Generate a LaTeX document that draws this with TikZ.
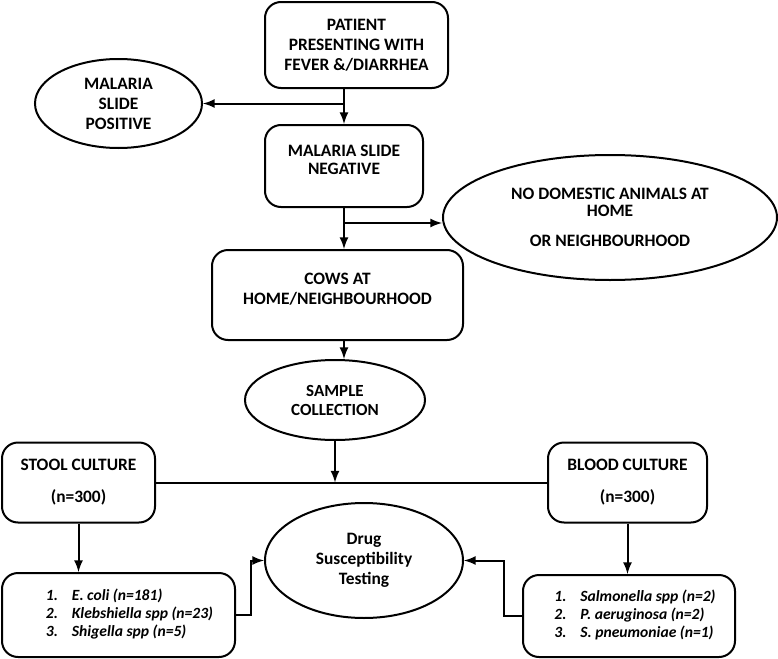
\documentclass[tikz,border=0pt]{standalone}
\usepackage{fontspec}
\setmainfont{Carlito}
\usetikzlibrary{shapes.geometric}

\tikzset{
  BoxStyle/.style  = {draw, rounded corners=8pt, line width=1pt, align=center, inner sep=0pt,
                      font=\fontsize{8.7}{10}\selectfont\bfseries},
  OvalStyle/.style = {draw, ellipse, line width=1pt, align=center, inner sep=0pt,
                      font=\fontsize{8.7}{10}\selectfont\bfseries},
  ListStyle/.style = {BoxStyle, font=\fontsize{7.8}{8.8}\selectfont\bfseries\itshape},
  EdgeStyle/.style = {->, line width=1pt},
}

\begin{document}
\begin{tikzpicture}[x=0.5pt,y=-0.5pt,>=latex]
\useasboundingbox (0,0) rectangle (778,659);

   % top part
   \node[BoxStyle, minimum width=91.5pt, minimum height=43pt] (patient) at (356.5,45)
        {PATIENT\\PRESENTING WITH\\FEVER \&/DIARRHEA};
   \node[OvalStyle, minimum width=83.5pt, minimum height=44.5pt] (malpos) at (118.5,103.5)
        {MALARIA\\SLIDE\\POSITIVE};
   \node[BoxStyle, minimum width=79pt, minimum height=41pt] (neg) at (344,166)
        {MALARIA SLIDE\\[-1pt]NEGATIVE\\[-4pt]\mbox{}};
   \node[OvalStyle, minimum width=167pt, minimum height=62.5pt] (nodom) at (610,217.5)
        {NO DOMESTIC ANIMALS AT\\[-1.5pt]HOME\\[5pt]OR NEIGHBOURHOOD};
   \node[BoxStyle, minimum width=125.5pt, minimum height=45pt] (cows) at (337.5,295)
        {COWS AT\\HOME/NEIGHBOURHOOD\\[-4pt]\mbox{}};
   \node[OvalStyle, minimum width=90pt, minimum height=40pt,
         font=\fontsize{8.5}{9.5}\selectfont\bfseries] (sample) at (335,400)
        {SAMPLE\\COLLECTION};

   % cultures
   \node[BoxStyle, minimum width=76.5pt, minimum height=40pt] (stool) at (78.5,482.5)
        {STOOL CULTURE\\[6pt](n=300)};
   \node[BoxStyle, minimum width=79.5pt, minimum height=40pt] (blood) at (627.5,482.5)
        {BLOOD CULTURE\\[6pt](n=300)};
   \node[OvalStyle, minimum width=99pt, minimum height=57.5pt] (dst) at (364,560.5)
        {Drug\\Susceptibility\\Testing};
   \node[ListStyle, minimum width=116.5pt, minimum height=42pt] (stoollist) at (118.5,615)
        {\begin{tabular}{@{\hspace{11pt}}p{13pt}@{}l@{}}
         1. & E. coli (n=181)\\
         2. & Klebshiella spp (n=23)\\
         3. & Shigella spp (n=5)
         \end{tabular}};
   \node[ListStyle, minimum width=106pt, minimum height=41pt] (bloodlist) at (629,616)
        {\begin{tabular}{@{\hspace{6pt}}p{13pt}@{}l@{}}
         1. & Salmonella spp (n=2)\\
         2. & P. aeruginosa (n=2)\\
         3. & S. pneumoniae (n=1)
         \end{tabular}};

   \coordinate (split) at (344,223);

   % connectors
   \draw[EdgeStyle] (neg.north |- patient.south) -- (neg.north);
   \draw[EdgeStyle] (neg.north |- malpos.east) -- (malpos.east);
   \draw[EdgeStyle] (neg.south) -- (neg.south |- cows.north);
   \draw[EdgeStyle] (split) -- (split -| nodom.west);
   \draw[EdgeStyle] (neg.south |- cows.south) -- (neg.south |- sample.north);
   \draw[line width=1pt] (stool.east) -- (blood.west);
   \draw[EdgeStyle] (sample.south) -- (sample.south |- stool.east);
   \draw[EdgeStyle] (stool.south) -- (stool.south |- stoollist.north);
   \draw[EdgeStyle] (blood.south) -- (blood.south |- bloodlist.north);
   \draw[EdgeStyle] (stoollist.east) -- ++(15,0) |- (dst.west);
   \draw[EdgeStyle] (bloodlist.west) -- ++(-18,0) |- (dst.east);
\end{tikzpicture}
\end{document}
